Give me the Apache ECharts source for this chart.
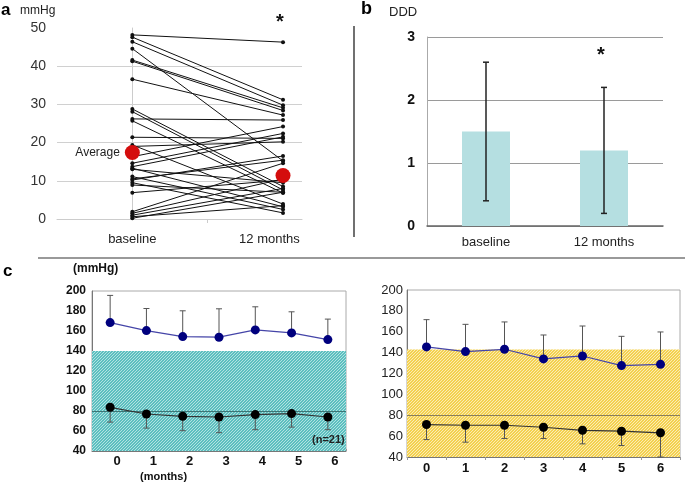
<html>
<head>
<meta charset="UTF-8">
<script src="https://cdn.jsdelivr.net/npm/echarts@6/dist/echarts.min.js"></script>
<title>BP chart</title>
</head>
<body style="margin:0;background:#fff">
<div id="main" style="width:685px;height:486px"></div>
<script type="text/javascript">
	// panel a: individual values (mmHg)
	var baselineBP = [48.2, 47.6, 46.4, 44.6, 41.6, 41.3, 36.6, 28.8, 28.1, 26.2, 25.7, 21.4, 19.4, 19.0, 16.3,
		14.6, 13.7, 13.3, 13.0, 11.1, 10.5, 10.2, 9.5, 8.9, 6.9, 1.9, 1.5, 1.0, 0.6, 0.2];
	var monthBP = [46.3, 31.2, 29.8, 15.2, 29.1, 28.4, 27.2, 8.5, 7.6, 25.9, 6.8, 21.1, 3.9, 20.2, 24.2,
		22.4, 21.5, 3.2, 9.5, 2.5, 15.4, 16.5, 1.6, 7.0, 10.2, 14.6, 10.5, 8.0, 3.5, 7.0];
	var averageBP = [17.4, 11.4];
	var aTicks = [0, 10, 20, 30, 40];

	// panel b: DDD
	var dddCats = ['baseline', '12 months'];
	var dddMean = [1.5, 1.2];
	var dddLow = [0.4, 0.2];
	var dddHigh = [2.6, 2.2];

	// panel c
	var months = ['0', '1', '2', '3', '4', '5', '6'];
	var sbpLeft = [168.4, 160.4, 154.4, 153.8, 161.1, 158.1, 151.4];
	var sbpLeftTop = [195.6, 182.5, 180.2, 182.2, 184.2, 179.2, 171.9];
	var dbpLeft = [83.7, 77, 74.7, 74, 76.4, 77.4, 74];
	var dbpLeftLow = [68.9, 62.9, 60.3, 58.3, 61.3, 63.9, 61.3];
	var sbpRight = [145.5, 141, 143.2, 134, 136.8, 127.6, 128.8];
	var sbpRightTop = [171.6, 167.1, 169.4, 156.9, 165.5, 155.6, 159.8];
	var dbpRight = [71.1, 70.4, 70.4, 68.5, 65.6, 64.7, 63.2];
	var dbpRightLow = [56.7, 54.2, 57.7, 57.7, 52.6, 51, 40];

	var FONT = 'Liberation Sans, Arial, sans-serif';

	function hatch(bg, fg) {
		var c = document.createElement('canvas');
		c.width = 3;
		c.height = 3;
		var g = c.getContext('2d');
		g.fillStyle = bg;
		g.fillRect(0, 0, 3, 3);
		g.fillStyle = fg;
		for (var i = 0; i < 3; i++) {
			g.fillRect(i, 2 - i, 1, 1);
		}
		return c;
	}

	function errData(means, ends) {
		var out = [];
		for (var i = 0; i < means.length; i++) {
			out.push([i, means[i], ends[i]]);
		}
		return out;
	}

	// one-sided bar with cap at the end
	function capBar(params, api) {
		var p0 = api.coord([api.value(0), api.value(1)]);
		var p1 = api.coord([api.value(0), api.value(2)]);
		var st = { stroke: '#555', lineWidth: 1 };
		return {
			type : 'group',
			children : [
				{ type : 'line', shape : { x1 : p0[0], y1 : p0[1], x2 : p1[0], y2 : p1[1] }, style : st },
				{ type : 'line', shape : { x1 : p1[0] - 3, y1 : p1[1], x2 : p1[0] + 3, y2 : p1[1] }, style : st }
			]
		};
	}

	// two-sided bar for panel b
	function fullBar(params, api) {
		var lo = api.coord([api.value(0), api.value(1)]);
		var hi = api.coord([api.value(0), api.value(2)]);
		var st = { stroke: '#222', lineWidth: 1.5 };
		return {
			type : 'group',
			children : [
				{ type : 'line', shape : { x1 : lo[0], y1 : lo[1], x2 : hi[0], y2 : hi[1] }, style : st },
				{ type : 'line', shape : { x1 : lo[0] - 3, y1 : lo[1], x2 : lo[0] + 3, y2 : lo[1] }, style : st },
				{ type : 'line', shape : { x1 : hi[0] - 3, y1 : hi[1], x2 : hi[0] + 3, y2 : hi[1] }, style : st }
			]
		};
	}

	var series = [];

	// panel a lines
	for (var i = 0; i < baselineBP.length; i++) {
		series.push({
			type : 'line',
			xAxisIndex : 0,
			yAxisIndex : 0,
			data : [ [0, baselineBP[i]], [1, monthBP[i]] ],
			symbol : 'circle',
			symbolSize : 4,
			itemStyle : { color : '#111' },
			lineStyle : { color : '#111', width : 1 },
			silent : true,
			z : 3
		});
	}
	var gridMarks = aTicks.slice(1).map(function(v) { return { yAxis : v }; });
	series.push({
		type : 'scatter',
		xAxisIndex : 0,
		yAxisIndex : 0,
		data : [
			{ value : [0, averageBP[0]], label : { show : true, position : 'left', distance : 5, formatter : 'Average',
				color : '#222', fontSize : 12, fontFamily : FONT } },
			{ value : [1, averageBP[1]] }
		],
		symbolSize : 15,
		itemStyle : { color : '#d40d0d', opacity : 1 },
		z : 5,
		markLine : {
			silent : true,
			symbol : 'none',
			label : { show : false },
			lineStyle : { color : '#d0d0d0', type : 'solid', width : 1 },
			data : gridMarks,
			z : 1
		}
	});

	// panel b
	series.push({
		type : 'bar',
		xAxisIndex : 1,
		yAxisIndex : 1,
		data : dddMean,
		barWidth : 48,
		itemStyle : { color : '#b5dfe1' },
		z : 2
	});
	series.push({
		type : 'custom',
		xAxisIndex : 1,
		yAxisIndex : 1,
		renderItem : fullBar,
		data : dddMean.map(function(m, k) { return [k, dddLow[k], dddHigh[k]]; }),
		z : 4
	});

	// panel c left
	series.push({
		type : 'custom',
		xAxisIndex : 2,
		yAxisIndex : 2,
		renderItem : capBar,
		data : errData(sbpLeft, sbpLeftTop),
		z : 3
	});
	series.push({
		type : 'custom',
		xAxisIndex : 2,
		yAxisIndex : 2,
		renderItem : capBar,
		data : errData(dbpLeft, dbpLeftLow),
		z : 3
	});
	series.push({
		type : 'line',
		xAxisIndex : 2,
		yAxisIndex : 2,
		data : sbpLeft,
		symbol : 'circle',
		symbolSize : 9,
		itemStyle : { color : '#00007e' },
		lineStyle : { color : '#4545a8', width : 1.2 },
		z : 5,
		markArea : {
			silent : true,
			itemStyle : { color : { image : hatch('#5cbfbf', '#b2e2e2'), repeat : 'repeat' } },
			data : [ [ { yAxis : 40 }, { yAxis : 140 } ] ]
		}
	});
	series.push({
		type : 'line',
		xAxisIndex : 2,
		yAxisIndex : 2,
		data : dbpLeft,
		symbol : 'circle',
		symbolSize : 9,
		itemStyle : { color : '#000' },
		lineStyle : { color : '#333', width : 1.2 },
		z : 5,
		markLine : {
			silent : true,
			symbol : 'none',
			label : { show : false },
			lineStyle : { color : '#3d7575', type : 'solid', width : 1 },
			data : [ { yAxis : 80 } ]
		}
	});

	// panel c right
	series.push({
		type : 'custom',
		xAxisIndex : 3,
		yAxisIndex : 3,
		renderItem : capBar,
		data : errData(sbpRight, sbpRightTop),
		z : 3
	});
	series.push({
		type : 'custom',
		xAxisIndex : 3,
		yAxisIndex : 3,
		renderItem : capBar,
		data : errData(dbpRight, dbpRightLow),
		z : 3
	});
	series.push({
		type : 'line',
		xAxisIndex : 3,
		yAxisIndex : 3,
		data : sbpRight,
		symbol : 'circle',
		symbolSize : 9,
		itemStyle : { color : '#00007e' },
		lineStyle : { color : '#4545a8', width : 1.2 },
		z : 5,
		markArea : {
			silent : true,
			itemStyle : { color : { image : hatch('#f3d150', '#fcecb4'), repeat : 'repeat' } },
			data : [ [ { yAxis : 40 }, { yAxis : 143 } ] ]
		}
	});
	series.push({
		type : 'line',
		xAxisIndex : 3,
		yAxisIndex : 3,
		data : dbpRight,
		symbol : 'circle',
		symbolSize : 9,
		itemStyle : { color : '#000' },
		lineStyle : { color : '#333', width : 1.2 },
		z : 5,
		markLine : {
			silent : true,
			symbol : 'none',
			label : { show : false },
			lineStyle : { color : '#8a7f5c', type : 'solid', width : 1 },
			data : [ { yAxis : 80 } ]
		}
	});

	var myChart = echarts.init(document.getElementById('main'));
	var option = {
		animation : false,
		textStyle : { fontFamily : FONT },
		grid : [
			{ left : 57, top : 28, width : 245, height : 191 },
			{ left : 427, top : 37, width : 236, height : 189 },
			{ left : 92, top : 291, width : 254, height : 160, show : true, borderColor : '#aaa', borderWidth : 1 },
			{ left : 407, top : 290, width : 273, height : 167, show : true, borderColor : '#aaa', borderWidth : 1 }
		],
		xAxis : [
			{
				gridIndex : 0, type : 'value', min : -0.5, max : 1.126,
				splitLine : { show : false },
				axisLine : { show : true, lineStyle : { color : '#ccc' } },
				axisTick : { show : true, customValues : [0.5], length : 4, lineStyle : { color : '#ccc' } },
				axisLabel : {
					customValues : [0, 0.91], margin : 14, fontSize : 13, color : '#222',
					formatter : function(v) { return v < 0.5 ? 'baseline' : '12 months'; }
				}
			},
			{
				gridIndex : 1, type : 'category', data : dddCats,
				axisLine : { lineStyle : { color : '#666', width : 1.5 } },
				axisTick : { show : false },
				axisLabel : { margin : 10, fontSize : 13, color : '#222' }
			},
			{
				gridIndex : 2, type : 'category', data : months,
				axisLine : { lineStyle : { color : '#777' } },
				axisTick : { show : true, inside : true, length : 2, lineStyle : { color : '#999' } },
				axisLabel : { margin : 4, fontSize : 13, fontWeight : 'bold', color : '#111', padding : [0, 0, 0, 14] }
			},
			{
				gridIndex : 3, type : 'category', data : months,
				axisLine : { lineStyle : { color : '#777' } },
				axisTick : { show : true, length : 3, lineStyle : { color : '#999' } },
				axisLabel : { margin : 5, fontSize : 13, fontWeight : 'bold', color : '#111' }
			}
		],
		yAxis : [
			{
				gridIndex : 0, type : 'value', min : 0, max : 50, interval : 10,
				splitLine : { show : false },
				axisLine : { show : true, lineStyle : { color : '#ccc' } },
				axisTick : { show : false },
				axisLabel : { margin : 11, fontSize : 14, color : '#333' }
			},
			{
				gridIndex : 1, type : 'value', min : 0, max : 3, interval : 1,
				splitLine : { lineStyle : { color : '#9a9a9a' } },
				axisLine : { show : true, lineStyle : { color : '#aaa' } },
				axisTick : { show : false },
				axisLabel : { margin : 12, fontSize : 14, fontWeight : 'bold', color : '#111' }
			},
			{
				gridIndex : 2, type : 'value', min : 40, max : 200, interval : 20,
				splitLine : { show : false },
				axisLine : { show : true, lineStyle : { color : '#777' } },
				axisTick : { show : false },
				axisLabel : { margin : 6, fontSize : 12, fontWeight : 'bold', color : '#111' }
			},
			{
				gridIndex : 3, type : 'value', min : 40, max : 200, interval : 20,
				splitLine : { show : false },
				axisLine : { show : true, lineStyle : { color : '#777' } },
				axisTick : { show : false },
				axisLabel : { margin : 4, fontSize : 13, color : '#222' }
			}
		],
		graphic : [
			{ type : 'text', left : 1, top : 2, style : { text : 'a', font : 'bold 17px ' + FONT, fill : '#000' } },
			{ type : 'text', left : 20, top : 5, style : { text : 'mmHg', font : '12px ' + FONT, fill : '#222' } },
			{ type : 'text', left : 276, top : 12, style : { text : '*', font : 'bold 20px ' + FONT, fill : '#111' } },
			{ type : 'text', left : 361, top : 0, style : { text : 'b', font : 'bold 18px ' + FONT, fill : '#000' } },
			{ type : 'text', left : 389, top : 6, style : { text : 'DDD', font : '13px ' + FONT, fill : '#222' } },
			{ type : 'text', left : 597, top : 45, style : { text : '*', font : 'bold 20px ' + FONT, fill : '#111' } },
			{ type : 'line', shape : { x1 : 354, y1 : 26, x2 : 354, y2 : 237 }, style : { stroke : '#111', lineWidth : 1.2 } },
			{ type : 'line', shape : { x1 : 38, y1 : 258, x2 : 685, y2 : 258 }, style : { stroke : '#999', lineWidth : 2 } },
			{ type : 'text', left : 3, top : 263, style : { text : 'c', font : 'bold 17px ' + FONT, fill : '#000' } },
			{ type : 'text', left : 73, top : 263, style : { text : '(mmHg)', font : 'bold 12px ' + FONT, fill : '#111' } },
			{ type : 'text', left : 140, top : 471, style : { text : '(months)', font : 'bold 11px ' + FONT, fill : '#111' } },
			{ type : 'text', left : 312, top : 434, z : 10, style : { text : '(n=21)', font : 'bold 11px ' + FONT, fill : '#222' } }
		],
		series : series
	};
	myChart.setOption(option);
</script>
</body>
</html>
